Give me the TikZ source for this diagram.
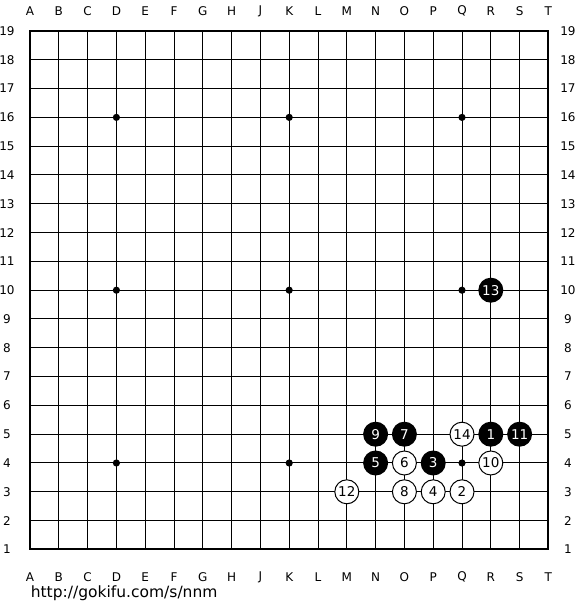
\documentclass[tikz,border=0pt]{standalone}
\usepackage{fontspec}
\setmainfont{DejaVu Sans}
\tikzset{
  stonebase/.style={circle,inner sep=0pt,font=\fontsize{13.5}{14}\selectfont},
  blackstone/.style={stonebase,fill=black,text=white,minimum size=25pt},
  whitestone/.style={stonebase,draw=black,line width=1pt,fill=white,text=black,minimum size=24pt},
  coordlabel/.style={font=\fontsize{12}{13}\selectfont,inner sep=0pt,text=black},
  gridline/.style={line width=1pt,black},
  borderline/.style={line width=2pt,black},
}
\begin{document}
\begin{tikzpicture}[x=28.8pt,y=28.8pt]
\useasboundingbox[fill=white] (-1.0417,-1.1042) rectangle (19.0972,20.0764);
\foreach \i in {1,...,17} \draw[gridline] (\i,1) -- (\i,19);
\foreach \j in {2,...,18} \draw[gridline] (0,\j) -- (18,\j);
\draw[borderline] (0,1) rectangle (18,19);
\foreach \x in {3,9,15} \foreach \y in {4,10,16} \fill (\x,\y) circle (3.6pt);
\foreach \l [count=\i from 0] in {A,B,C,D,E,F,G,H,J,K,L,M,N,O,P,Q,R,S,T} {
  \node[coordlabel] (top\l) at (\i,19.69) {\l};
  \node[coordlabel] (bot\l) at (\i,0.04) {\l};
}
\foreach \n in {1,...,19} {
  \node[coordlabel] (left\n) at (-0.8,\n) {\n};
  \node[coordlabel] (right\n) at (18.68,\n) {\n};
}
% black stones
\node[blackstone] (b1) at (16,5) {1};
\node[blackstone] (b3) at (14,4) {3};
\node[blackstone] (b5) at (12,4) {5};
\node[blackstone] (b7) at (13,5) {7};
\node[blackstone] (b9) at (12,5) {9};
\node[blackstone] (b11) at (17,5) {11};
\node[blackstone] (b13) at (16,10) {13};
% white stones
\node[whitestone] (w2) at (15,3) {2};
\node[whitestone] (w4) at (14,3) {4};
\node[whitestone] (w6) at (13,4) {6};
\node[whitestone] (w8) at (13,3) {8};
\node[whitestone] (w10) at (16,4) {10};
\node[whitestone] (w12) at (11,3) {12};
\node[whitestone] (w14) at (15,5) {14};
\node[anchor=base west,inner sep=0pt,font=\fontsize{15.5}{16}\selectfont] (url) at (0.02,-0.6875) {http://gokifu.com/s/nnm};
\end{tikzpicture}
\end{document}
